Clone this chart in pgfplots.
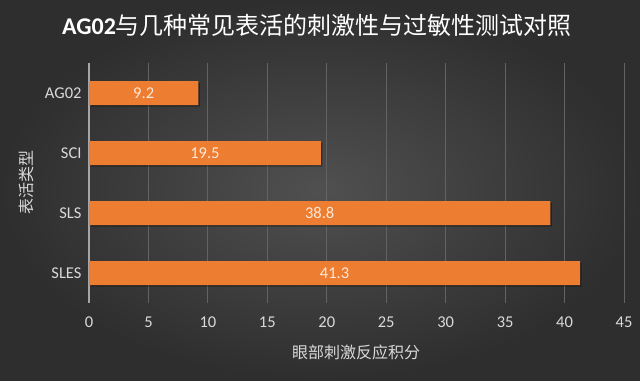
\documentclass[border=0pt]{standalone}
\usepackage{fontspec}
\usepackage{pgfplots}
\usepackage{pgfplotstable}
\pgfplotsset{compat=1.18}
\setmainfont{Carlito}
\newfontfamily\cjk{Noto Sans CJK SC}
\definecolor{barc}{HTML}{ED7D31}
\definecolor{txt}{HTML}{D9D9D9}
\definecolor{gridc}{HTML}{636363}
\definecolor{bgin}{HTML}{505050}
\definecolor{bgout}{HTML}{2E2E2E}
\pgfplotstableread{
pos val
0 9.2
1 19.5
2 38.8
3 41.3
}\datatab
\begin{document}
\begin{tikzpicture}[x=1bp,y=1bp]
\shade[inner color=bgin, outer color=bgout] (0,0) rectangle (640,380);
\begin{axis}[
  at={(89bp,77bp)}, anchor=south west,
  scale only axis, width=535bp, height=240bp,
  xmin=0, xmax=45, ymin=-0.5, ymax=3.5, y dir=reverse,
  xtick={0,5,...,45}, ytick={0,1,2,3},
  yticklabels={AG02,SCI,SLS,SLES},
  axis x line*=bottom, axis y line*=left,
  x axis line style={draw=none},
  y axis line style={draw=gray!70, line width=1.5pt},
  major tick length=0pt,
  xmajorgrids, grid style={color=gridc, line width=0.8pt},
  tick label style={color=txt, font=\fontsize{16.5bp}{18bp}\selectfont},
  xticklabel style={yshift=-10bp},
  yticklabel style={xshift=-4bp},
  /pgf/number format/assume math mode=true,
  clip=false,
]
\addplot[xbar, bar width=24bp, fill=barc, draw=none,
  preaction={fill=black, opacity=0.35, transform canvas={xshift=1.5bp, yshift=-1.5bp}}]
  table[x=val, y=pos] {\datatab};
\addplot[draw=none, mark=none, nodes near coords, point meta=explicit,
  nodes near coords style={anchor=center, color=white!82!barc, font=\fontsize{16.5bp}{18bp}\selectfont, /pgf/number format/.cd, fixed, precision=1, assume math mode=true}]
  table[x expr=\thisrow{val}/2, y=pos, meta=val] {\datatab};
\end{axis}
\node[color=white, font=\fontsize{24bp}{28bp}\selectfont] at (317,355) {\textbf{AG02}\cjk 与几种常见表活的刺激性与过敏性测试对照};
\node[color=txt, font=\fontsize{16bp}{18bp}\selectfont\cjk] at (356,28) {眼部刺激反应积分};
\node[color=txt, font=\fontsize{16bp}{18bp}\selectfont\cjk, rotate=90] at (26,198) {表活类型};
\end{tikzpicture}
\end{document}
